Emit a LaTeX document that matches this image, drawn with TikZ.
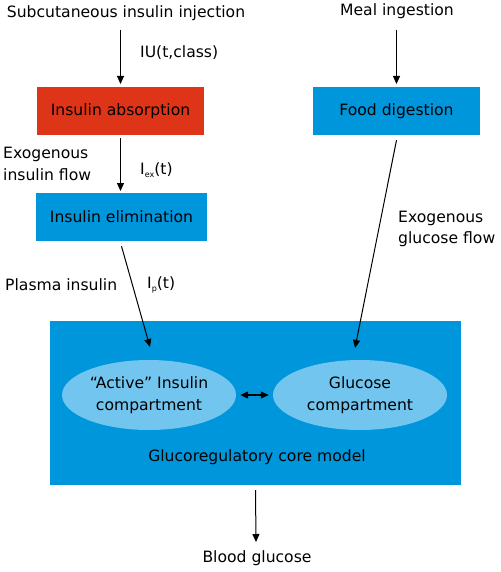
\documentclass[tikz,border=0pt]{standalone}
\usepackage{fontspec}
\setmainfont{DejaVu Sans}
\usetikzlibrary{arrows.meta,shapes.geometric}
\definecolor{boxblue}{HTML}{0096DB}
\definecolor{boxred}{HTML}{DE3518}
\definecolor{ellblue}{HTML}{72C5EF}
\newcommand{\fsz}{\fontsize{15.6}{21.5}\selectfont}
\newcommand{\subsz}{\fontsize{8}{8}\selectfont}
\tikzset{
  lbl/.style={font=\fsz, inner sep=0pt},
  boxnode/.style={font=\fsz, minimum height=48pt, inner sep=0pt},
  ell/.style={ellipse, fill=ellblue, minimum width=174pt, minimum height=70pt, inner sep=0pt, align=center, font=\fsz},
  arr/.style={-{Triangle[length=8pt,width=7pt]}, line width=1pt},
  dblarr/.style={{Triangle[length=8pt,width=7pt]}-{Triangle[length=8pt,width=7pt]}, line width=1.1pt},
}
\begin{document}
\begin{tikzpicture}[x=1pt,y=-1pt]
\useasboundingbox (0,0) rectangle (500,572);
% top texts
\node[lbl] (inj) at (126,13) {Subcutaneous insulin injection};
\node[lbl] (meal) at (397,11) {Meal ingestion};
% boxes
\node[boxnode, fill=boxred, minimum width=167pt] (absorb) at (120.5,111) {Insulin absorption};
\node[boxnode, fill=boxblue, minimum width=171pt] (elim) at (121.5,217) {Insulin elimination};
\node[boxnode, fill=boxblue, minimum width=167pt] (food) at (396.5,111) {Food digestion};
% big box
\node[fill=boxblue, minimum width=411pt, minimum height=164pt, inner sep=0pt] (core) at (255.5,403) {};
\node[ell] (act) at (149,395) {``Active'' Insulin\\compartment};
\node[ell] (glu) at (360,395) {Glucose\\compartment};
\node[lbl] (coretxt) at (257,457) {Glucoregulatory core model};
\node[lbl] (blood) at (257,558) {Blood glucose};
% labels
\node[lbl, anchor=west] (iu) at (140,53) {IU(t,class)};
\node[lbl, anchor=west, align=left] (exo) at (3,164) {Exogenous\\insulin flow};
\node[lbl, anchor=west] (iex) at (140,170) {I\raisebox{-2.5pt}{\subsz ex}(t)};
\node[lbl, anchor=west] (plasma) at (5,285) {Plasma insulin};
\node[lbl, anchor=west] (ip) at (147,285) {I\raisebox{-2.5pt}{\subsz p}(t)};
\node[lbl, anchor=west, align=left] (exg) at (398,229) {Exogenous\\glucose flow};
% connector end points
\coordinate (actin) at (150,347);
\coordinate (gluin) at (355,348);
\coordinate (bloodin) at (256,542);
% arrows
\draw[arr] (absorb.north |- 0,30) -- (absorb.north |- 0,84);
\draw[arr] (food.north |- 0,30) -- (food.north |- 0,84);
\draw[arr] (absorb.south |- 0,138) -- (absorb.south |- 0,191);
\draw[arr] ([yshift=-5pt]elim.south) -- (actin);
\draw[arr] ([yshift=-5pt]food.south) -- (gluin);
\draw[dblarr] ([xshift=4pt]act.east) -- ([xshift=-4pt]glu.west);
\draw[arr] ([yshift=-5pt]core.south) -- (bloodin);
\end{tikzpicture}
\end{document}
